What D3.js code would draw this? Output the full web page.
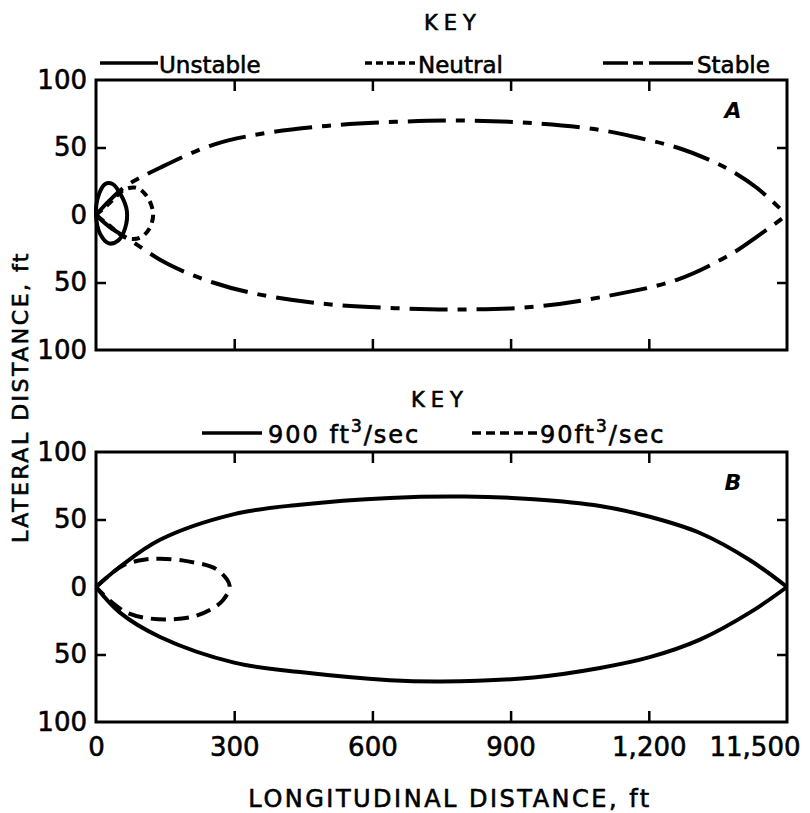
<!DOCTYPE html>
<html>
<head>
<meta charset="utf-8">
<script src="https://cdn.jsdelivr.net/npm/d3@7"></script>
<style>
  body { margin: 0; background: #fff; }
  svg { display: block; font-family: "DejaVu Sans", sans-serif; }
  text { stroke: #000; stroke-width: 0.6px; }
  .frame { fill: none; stroke: #000; stroke-width: 3; }
  .axis path { display: none; }
  .axis line { stroke: #000; stroke-width: 2.5; }
  .axis text { font-size: 26px; fill: #000; font-family: "DejaVu Sans", sans-serif; }
  .curve { fill: none; stroke: #000; stroke-width: 4; stroke-linejoin: round; }
  .key-line { stroke: #000; stroke-width: 3.5; }
  .key-text { font-size: 23px; fill: #000; }
  .flow-text { font-size: 24px; letter-spacing: 2px; }
  .key-title { font-size: 21px; letter-spacing: 6px; fill: #000; }
  .title { font-size: 24px; letter-spacing: 2.5px; fill: #000; }
  .panel-tag { font-size: 22px; font-style: italic; font-weight: bold; fill: #000; stroke-width: 0; }
</style>
</head>
<body>
<svg id="chart" width="810" height="813"></svg>
<script>
// tick values and labels (as printed on the original figure)
const xTicks = [0, 300, 600, 900, 1200, 1500];
const xTickLabels = ['0', '300', '600', '900', '1,200', '11,500'];
const yTicks = [100, 50, 0, -50, -100];
const yTickLabels = ['100', '50', '0', '50', '100'];

// panel A — lateral extent of the plume, [longitudinal ft, lateral ft]
const stableUpper = [[0, 0], [30, 11], [67, 22], [139, 35], [254, 52], [356, 60], [500, 66], [650, 69], [800, 70], [950, 68], [1094, 63], [1180, 57], [1261, 50], [1330, 41], [1383, 32], [1435, 20], [1500, 0]];
const stableLower = [[0, 0], [30, -9], [67, -17], [154, -36], [254, -50], [356, -59], [500, -66], [650, -69], [800, -70], [950, -68], [1094, -61], [1261, -48], [1383, -28], [1435, -16], [1500, 0]];
const unstableLoop = [[0, 0], [5, 14], [20, 23], [36, 23], [54, 15], [67, 3], [63, -10], [48, -19], [28, -21], [9, -14]];
const neutralLoop = [[0, 0], [30, 9], [63, 19], [90, 20], [112, 13], [124, 1], [116, -10], [95, -17], [65, -17], [30, -8], [0, 0]];

// panel B
const flow900Upper = [[0, 0], [52, 15], [139, 35], [300, 54], [443, 61], [638, 66], [800, 67], [950, 65], [1094, 60], [1202, 52], [1311, 40], [1419, 20], [1500, 0]];
const flow900Lower = [[0, 0], [52, -19], [139, -37], [300, -56], [443, -63], [638, -69], [750, -70], [950, -67], [1094, -60], [1202, -52], [1311, -39], [1419, -19], [1500, 0]];
const flow90Loop = [[0, 0], [30, 9], [59, 16], [100, 20], [139, 21], [200, 19], [262, 13], [290, 1], [275, -10], [247, -17], [210, -22], [161, -24], [110, -23], [67, -19], [30, -10], [0, 0]];

const svg = d3.select('#chart');

const x = d3.scaleLinear().domain([0, 1500]).range([96, 787]);

function drawPanel(top, bottom, tag, withLabels) {
  const y = d3.scaleLinear().domain([-100, 100]).range([bottom, top]);

  svg.append('rect')
    .attr('class', 'frame')
    .attr('x', x(0)).attr('y', top)
    .attr('width', x(1500) - x(0)).attr('height', bottom - top);

  // inward ticks on all four sides
  svg.append('g').attr('class', 'axis')
    .attr('transform', `translate(0,${top})`)
    .call(d3.axisTop(x).tickValues(xTicks.slice(1, -1)).tickSizeInner(-11).tickSizeOuter(0).tickFormat(''));

  const bottomAxis = d3.axisBottom(x).tickValues(xTicks).tickSizeInner(-11).tickSizeOuter(0).tickPadding(16)
    .tickFormat(withLabels ? (d, i) => xTickLabels[i] : '');
  const gb = svg.append('g').attr('class', 'axis')
    .attr('transform', `translate(0,${bottom})`)
    .call(bottomAxis);
  gb.selectAll('.tick').filter(d => d === 0 || d === 1500).select('line').remove();
  gb.selectAll('.tick').filter(d => d === 1500).select('text').attr('text-anchor', 'end').attr('x', 13);

  const gl = svg.append('g').attr('class', 'axis')
    .attr('transform', `translate(${x(0)},0)`)
    .call(d3.axisLeft(y).tickValues(yTicks).tickSizeInner(-10).tickSizeOuter(0).tickPadding(9)
      .tickFormat((d, i) => yTickLabels[i]));
  gl.selectAll('.tick').filter(d => Math.abs(d) !== 50).select('line').remove();

  svg.append('g').attr('class', 'axis')
    .attr('transform', `translate(${x(1500)},0)`)
    .call(d3.axisRight(y).tickValues([50, -50]).tickSizeInner(-10).tickSizeOuter(0).tickFormat(''));

  svg.append('text')
    .attr('class', 'panel-tag')
    .attr('x', x(1500) - 54).attr('y', top + 38)
    .attr('text-anchor', 'middle')
    .text(tag);

  return y;
}

const yA = drawPanel(80, 350, 'A', false);
const yB = drawPanel(452, 722, 'B', true);

const lineA = d3.line().x(d => x(d[0])).y(d => yA(d[1]));
const lineB = d3.line().x(d => x(d[0])).y(d => yB(d[1]));

// panel A curves
[stableUpper, stableLower].forEach(pts => {
  svg.append('path').attr('class', 'curve')
    .attr('d', lineA.curve(d3.curveCatmullRom)(pts))
    .attr('stroke-dasharray', '38,10,9,10');
});
svg.append('path').attr('class', 'curve')
  .attr('d', lineA.curve(d3.curveCatmullRom)(neutralLoop))
  .attr('stroke-width', 3)
  .attr('stroke-dasharray', '8,6');
svg.append('path').attr('class', 'curve')
  .attr('d', lineA.curve(d3.curveCatmullRomClosed)(unstableLoop))
  .attr('stroke-width', 3.5);

// panel B curves
[flow900Upper, flow900Lower].forEach(pts => {
  svg.append('path').attr('class', 'curve')
    .attr('d', lineB.curve(d3.curveCatmullRom)(pts));
});
svg.append('path').attr('class', 'curve')
  .attr('d', lineB.curve(d3.curveCatmullRom)(flow90Loop))
  .attr('stroke-width', 3.5)
  .attr('stroke-dasharray', '15,8');

// keys
function keyItem(x1, x2, yy, dash, tx) {
  svg.append('line').attr('class', 'key-line')
    .attr('x1', x1).attr('x2', x2).attr('y1', yy).attr('y2', yy)
    .attr('stroke-dasharray', dash);
  return svg.append('text').attr('class', 'key-text')
    .attr('x', tx).attr('y', yy + 10);
}

svg.append('text').attr('class', 'key-title')
  .attr('x', 453).attr('y', 30).attr('text-anchor', 'middle').text('KEY');
keyItem(100, 158, 63, null, 159).text('Unstable');
keyItem(365, 415, 63, '7,4', 418).text('Neutral');
keyItem(603, 693, 63, '25,5,10,6,50', 697).text('Stable');

svg.append('text').attr('class', 'key-title')
  .attr('x', 440).attr('y', 407).attr('text-anchor', 'middle').text('KEY');

function flowLabel(t, num) {
  t.classed('flow-text', true);
  t.append('tspan').text(num + 'ft');
  t.append('tspan').attr('dy', -11).style('font-size', '17px').text('3');
  t.append('tspan').attr('dy', 11).text('/sec');
}
flowLabel(keyItem(202, 262, 433, null, 268), '900 ');
flowLabel(keyItem(472, 538, 433, '9,5', 540), '90');

// axis titles
svg.append('text').attr('class', 'title')
  .attr('x', 450).attr('y', 807).attr('text-anchor', 'middle')
  .text('LONGITUDINAL DISTANCE, ft');
svg.append('text').attr('class', 'title')
  .attr('transform', 'translate(28,397) rotate(-90)')
  .attr('text-anchor', 'middle')
  .style('font-size', '22px')
  .text('LATERAL DISTANCE, ft');
</script>
</body>
</html>
